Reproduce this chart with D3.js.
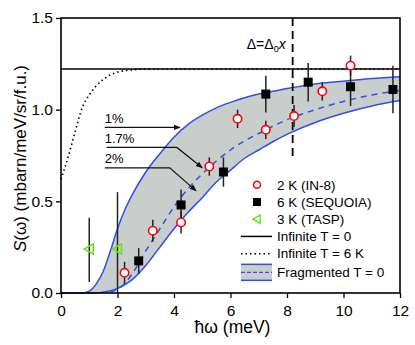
<!DOCTYPE html>
<html>
<head>
<meta charset="utf-8">
<script src="https://cdn.jsdelivr.net/npm/d3@7"></script>
<style>
  body { margin: 0; background: #fff; }
  svg text { font-family: "Liberation Sans", Arial, sans-serif; fill: #000; }
</style>
</head>
<body>
<div id="chart"></div>
<script>
// 2 K (IN-8)
const in8X = [2.25, 3.25, 4.25, 5.25, 6.25, 7.25, 8.25, 9.25, 10.25];
const in8Y = [0.11, 0.34, 0.385, 0.69, 0.95, 0.89, 0.965, 1.10, 1.24];
const in8Err = [0.06, 0.06, 0.06, 0.05, 0.05, 0.05, 0.06, 0.05, 0.055];

// 6 K (SEQUOIA)
const seqX = [2.75, 4.25, 5.75, 7.25, 8.75, 10.25, 11.75];
const seqY = [0.175, 0.48, 0.66, 1.085, 1.15, 1.125, 1.11];
const seqErr = [0.07, 0.085, 0.08, 0.10, 0.105, 0.105, 0.13];

// 3 K (TASP)
const taspX = [1.0, 2.0];
const taspY = [0.24, 0.24];
const taspLo = [0.06, 0.0];
const taspHi = [0.41, 0.55];

// fragmented chain band, T = 0
const bandX = [0, 0.5, 0.75, 1.0, 1.25, 1.5, 1.75, 2.0, 2.25, 2.5, 3.0, 3.5, 4.0, 4.5, 5.0, 5.5, 6.0, 6.5, 7.0, 7.5, 8.0, 9.0, 10.0, 11.0, 12.0];
const bandUpper = [0, 0, 0, 0.01, 0.05, 0.12, 0.23, 0.35, 0.45, 0.53, 0.66, 0.76, 0.85, 0.92, 0.97, 1.01, 1.04, 1.065, 1.085, 1.10, 1.115, 1.14, 1.155, 1.17, 1.18];
const bandMid = [0, 0, 0, 0, 0, 0, 0.005, 0.02, 0.05, 0.10, 0.23, 0.35, 0.47, 0.57, 0.65, 0.72, 0.78, 0.83, 0.87, 0.91, 0.945, 1.00, 1.045, 1.08, 1.105];
const bandLower = [0, 0, 0, 0, 0, 0.005, 0.012, 0.025, 0.045, 0.07, 0.15, 0.25, 0.35, 0.44, 0.52, 0.605, 0.67, 0.735, 0.78, 0.825, 0.865, 0.93, 0.98, 1.02, 1.05];

// infinite chain
const infT0 = 1.222;
const infT6X = [0, 0.25, 0.5, 0.75, 1.0, 1.25, 1.5, 1.75, 2.0, 2.5, 3.0, 4.0, 12.0];
const infT6Y = [0.62, 0.74, 0.88, 1.01, 1.08, 1.13, 1.165, 1.19, 1.205, 1.217, 1.221, 1.222, 1.222];

const gapX = 8.2;      // Δ = Δ0 x
const gapTop = 1.5, gapBottom = 0.73;

// arrow annotations (label, text pos, path in data units)
const notes = [
  { label: "1%",   tx: 1.55, ty: 0.928, pts: [[1.55, 0.903], [4.21, 0.903]] },
  { label: "1.7%", tx: 1.55, ty: 0.818, pts: [[1.62, 0.794], [4.10, 0.794], [5.0, 0.683]] },
  { label: "2%",   tx: 1.55, ty: 0.709, pts: [[1.55, 0.683], [3.85, 0.683], [4.78, 0.557]] }
];

const xTicks = [0, 2, 4, 6, 8, 10, 12];
const yTicks = [0.0, 0.5, 1.0, 1.5];

const W = 415, H = 345;
const margin = { top: 18, right: 15, bottom: 52, left: 61 };
const width = W - margin.left - margin.right,
      height = H - margin.top - margin.bottom;

const svg = d3.select("#chart").append("svg")
    .attr("width", W).attr("height", H);

const defs = svg.append("defs");
defs.append("marker")
    .attr("id", "arr").attr("viewBox", "0 0 10 10")
    .attr("refX", 9).attr("refY", 5)
    .attr("markerWidth", 7).attr("markerHeight", 7)
    .attr("markerUnits", "userSpaceOnUse")
    .attr("orient", "auto")
  .append("path").attr("d", "M0,1 L10,5 L0,9 Z").attr("fill", "#111");

const g = svg.append("g")
    .attr("transform", "translate(" + margin.left + "," + margin.top + ")");

const x = d3.scaleLinear().domain([0, 12]).range([0, width]);
const y = d3.scaleLinear().domain([0, 1.5]).range([height, 0]);

const blue = "#2f4fe8";

// band
const band = bandX.map((v, i) => ({ x: v, lo: bandLower[i], hi: bandUpper[i], mid: bandMid[i] }));
g.append("path").datum(band)
    .attr("fill", "#c9cecd")
    .attr("d", d3.area().curve(d3.curveMonotoneX)
        .x(d => x(d.x)).y0(d => y(d.lo)).y1(d => y(d.hi)));

const bline = key => d3.line().curve(d3.curveMonotoneX).x(d => x(d.x)).y(d => y(d[key]));
g.append("path").datum(band).attr("fill", "none").attr("stroke", blue).attr("stroke-width", 1.5).attr("d", bline("hi"));
g.append("path").datum(band).attr("fill", "none").attr("stroke", blue).attr("stroke-width", 1.5).attr("d", bline("lo"));
g.append("path").datum(band.filter(d => d.x >= 1.75)).attr("fill", "none").attr("stroke", blue)
    .attr("stroke-width", 1.5).attr("stroke-dasharray", "6,5").attr("d", bline("mid"));

// infinite chain lines
g.append("line")
    .attr("x1", x(0)).attr("x2", x(12)).attr("y1", y(infT0)).attr("y2", y(infT0))
    .attr("stroke", "#000").attr("stroke-width", 1.6);
g.append("path").datum(infT6X.map((v, i) => [v, infT6Y[i]]))
    .attr("fill", "none").attr("stroke", "#000").attr("stroke-width", 1.6)
    .attr("stroke-dasharray", "1.5,3")
    .attr("d", d3.line().curve(d3.curveMonotoneX).x(d => x(d[0])).y(d => y(d[1])));

// gap line
g.append("line")
    .attr("x1", x(gapX)).attr("x2", x(gapX)).attr("y1", y(gapTop)).attr("y2", y(gapBottom))
    .attr("stroke", "#000").attr("stroke-width", 1.8).attr("stroke-dasharray", "8,5");
const dt = g.append("text").attr("x", x(gapX) - 7).attr("y", y(1.33))
    .attr("text-anchor", "end").attr("font-size", 14);
dt.append("tspan").text("Δ=Δ");
dt.append("tspan").attr("font-size", 9).attr("dy", 3).text("0");
dt.append("tspan").attr("dy", -3).attr("font-style", "italic").text("x");

// annotations
notes.forEach(n => {
  g.append("text").attr("x", x(n.tx)).attr("y", y(n.ty)).attr("font-size", 13).text(n.label);
  g.append("path").datum(n.pts)
      .attr("fill", "none").attr("stroke", "#111").attr("stroke-width", 1.2)
      .attr("marker-end", "url(#arr)")
      .attr("d", d3.line().x(d => x(d[0])).y(d => y(d[1])));
});

// error bars
const ebar = (xs, lo, hi) => {
  g.append("g").selectAll("line").data(xs).join("line")
      .attr("x1", d => x(d)).attr("x2", d => x(d))
      .attr("y1", (d, i) => y(lo[i])).attr("y2", (d, i) => y(hi[i]))
      .attr("stroke", "#222").attr("stroke-width", 1.5);
};
ebar(taspX, taspLo, taspHi);
ebar(seqX, seqY.map((v, i) => v - seqErr[i]), seqY.map((v, i) => v + seqErr[i]));
ebar(in8X, in8Y.map((v, i) => v - in8Err[i]), in8Y.map((v, i) => v + in8Err[i]));

// markers
const tri = "M-5,0 L4,-5.2 L4,5.2 Z";
g.append("g").selectAll("path").data(taspX).join("path")
    .attr("transform", (d, i) => "translate(" + x(d) + "," + y(taspY[i]) + ")")
    .attr("d", tri).attr("fill", "none").attr("stroke", "#66e61a").attr("stroke-width", 1.6);
g.append("g").selectAll("rect").data(seqX).join("rect")
    .attr("x", d => x(d) - 4.5).attr("y", (d, i) => y(seqY[i]) - 4.5)
    .attr("width", 9).attr("height", 9).attr("fill", "#000");
g.append("g").selectAll("circle").data(in8X).join("circle")
    .attr("cx", d => x(d)).attr("cy", (d, i) => y(in8Y[i])).attr("r", 4.2)
    .attr("fill", "#fff").attr("stroke", "#f00").attr("stroke-width", 1.6);

// axes
const xAxis = g.append("g").attr("transform", "translate(0," + height + ")");
xAxis.call(d3.axisBottom(x).tickValues(d3.range(0, 13, 1)).tickSize(3).tickFormat(""));
xAxis.call(d3.axisBottom(x).tickValues(xTicks).tickSize(5).tickFormat(d3.format("d")));
const yAxis = g.append("g");
yAxis.call(d3.axisLeft(y).tickValues(d3.range(0, 1.51, 0.25)).tickSize(3).tickFormat(""));
yAxis.call(d3.axisLeft(y).tickValues(yTicks).tickSize(5).tickFormat(d3.format(".1f")));
g.selectAll(".domain").remove();
g.selectAll(".tick line").attr("stroke", "#000").attr("stroke-width", 1.3);
g.selectAll(".tick text").attr("font-size", 15.5)
    .attr("font-family", "Liberation Sans, Arial, sans-serif").attr("fill", "#000");
xAxis.selectAll(".tick text").attr("dy", "0.95em");

g.append("rect").attr("width", width).attr("height", height)
    .attr("fill", "none").attr("stroke", "#000").attr("stroke-width", 1.6);

svg.append("text")
    .attr("x", margin.left + width / 2 + 2).attr("y", H - 12)
    .attr("text-anchor", "middle").attr("font-size", 17.5).text("ħω (meV)");
const yt = svg.append("text")
    .attr("transform", "translate(26," + (margin.top + height / 2 + 3) + ") rotate(-90)")
    .attr("text-anchor", "middle").attr("font-size", 17);
yt.append("tspan").attr("font-style", "italic").text("S");
yt.append("tspan").text("(ω) (mbarn/meV/sr/f.u.)");

// legend
const leg = g.append("g").attr("transform", "translate(" + (width - 178) + "," + (y(0.59)) + ")");
const rowH = 17.2;
const items = ["2 K (IN-8)", "6 K (SEQUOIA)", "3 K (TASP)", "Infinite T = 0", "Infinite T = 6 K", "Fragmented T = 0"];
items.forEach((t, i) => {
  leg.append("text").attr("x", 55).attr("y", i * rowH + (i === 5 ? 1.5 : 0)).attr("dy", "0.35em")
      .attr("font-size", 13.5).text(t);
});
leg.append("circle").attr("cx", 35).attr("cy", 0).attr("r", 3.5)
    .attr("fill", "#fff").attr("stroke", "#f00").attr("stroke-width", 1.5);
leg.append("rect").attr("x", 31).attr("y", rowH - 4).attr("width", 8).attr("height", 8).attr("fill", "#000");
leg.append("path").attr("transform", "translate(35," + 2 * rowH + ") scale(0.8)")
    .attr("d", tri).attr("fill", "none").attr("stroke", "#66e61a").attr("stroke-width", 1.8);
leg.append("line").attr("x1", 19).attr("x2", 50).attr("y1", 3 * rowH).attr("y2", 3 * rowH)
    .attr("stroke", "#000").attr("stroke-width", 1.5);
leg.append("line").attr("x1", 19).attr("x2", 50).attr("y1", 4 * rowH).attr("y2", 4 * rowH)
    .attr("stroke", "#000").attr("stroke-width", 1.5).attr("stroke-dasharray", "1.5,3");
const fy = 5 * rowH + 1.5;
leg.append("rect").attr("x", 19).attr("y", fy - 8).attr("width", 31).attr("height", 16).attr("fill", "#c9cecd");
[-8, 8].forEach(o => leg.append("line").attr("x1", 19).attr("x2", 50)
    .attr("y1", fy + o).attr("y2", fy + o).attr("stroke", blue).attr("stroke-width", 1.5));
leg.append("line").attr("x1", 19).attr("x2", 50).attr("y1", fy).attr("y2", fy)
    .attr("stroke", blue).attr("stroke-width", 1.3).attr("stroke-dasharray", "4,2");
</script>
</body>
</html>
